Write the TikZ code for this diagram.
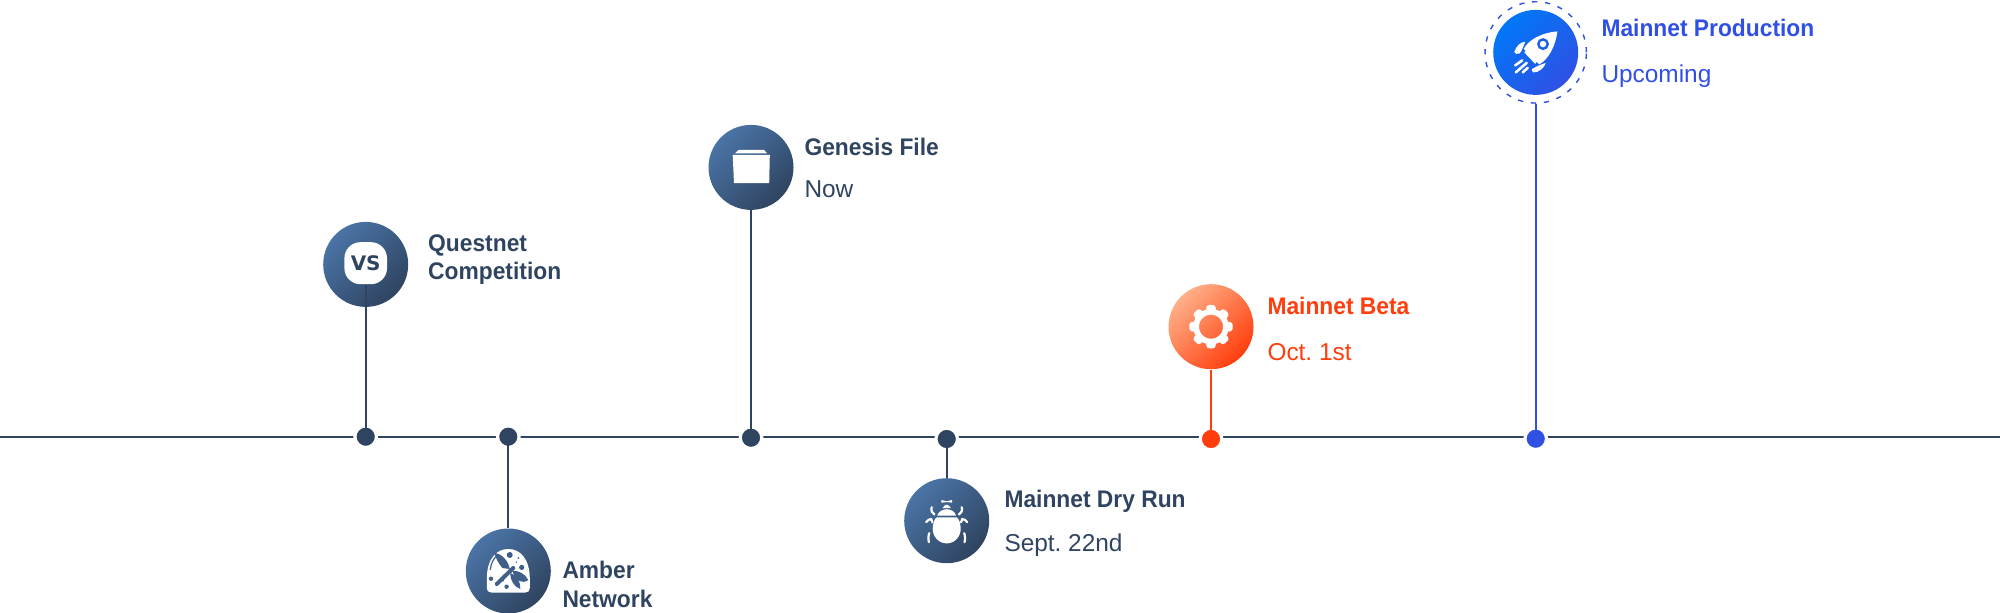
\documentclass[tikz,border=0pt]{standalone}
\usepackage{fontspec}
\setmainfont{Liberation Sans}[FakeStretch=0.95]
\newfontfamily\subfam{Liberation Sans}[FakeStretch=1.0]
\newfontfamily\vsfam{DejaVu Sans}
\definecolor{ink}{HTML}{2F4460}
\definecolor{inkhi}{HTML}{4A74A6}
\definecolor{inkmid}{HTML}{3F5F8A}
\definecolor{org}{HTML}{FF3D0D}
\definecolor{orghi}{HTML}{FFB088}
\definecolor{blu}{HTML}{3050E4}
\definecolor{bluhi}{HTML}{0078F8}
\definecolor{bluin}{HTML}{1C60EA}
\tikzset{
  x=0.5pt,y=-0.5pt,
  badge/.style={circle,minimum size=42.5pt,inner sep=0pt},
  inkbadge/.style={badge,top color=inkhi,bottom color=ink,shading angle=45},
  orgbadge/.style={badge,top color=orghi,bottom color=org,shading angle=45},
  blubadge/.style={badge,top color=bluhi,bottom color=blu,shading angle=45},
  dot/.style={circle,inner sep=0pt,fill=#1,draw=white,line width=1.6pt,minimum size=10.8pt},
  rail/.style={line width=0.85pt,draw=ink},
  stem/.style={line width=0.85pt,draw=#1},
  head/.style={anchor=base west,inner sep=0pt,xshift=-0.45pt,yshift=-0.25pt,font=\fontsize{12}{14}\selectfont\bfseries,text=#1},
  sub/.style={anchor=base west,inner sep=0pt,xshift=-0.45pt,yshift=-0.25pt,font=\fontsize{12.2}{14}\selectfont\subfam\frenchspacing,text=#1},
  ico/.style={fill=white,draw=none},
}
\begin{document}
\begin{tikzpicture}
\useasboundingbox (0,-0.7) rectangle (2000,612.3);
\coordinate (railL) at (0,436);
\coordinate (railR) at (2000,436);
\draw[rail] (railL) -- (railR);

\node[dot=ink] (d1) at (365.7,436) {};
\node[dot=ink] (d2) at (508.3,436) {};
\node[dot=ink] (d3) at (751,437) {};
\node[dot=ink] (d4) at (946.7,438.3) {};
\node[dot=org] (d5) at (1211,438.3) {};
\node[dot=blu] (d6) at (1535.7,438) {};

\node[inkbadge] (c1) at (365.7,263.7) {};
\node[inkbadge] (c2) at (508.3,570.3) {};
\node[inkbadge] (c3) at (751,166.7) {};
\node[inkbadge] (c4) at (946.7,520) {};
\node[orgbadge] (c5) at (1211,326) {};
\node[blubadge] (c6) at (1535.7,51.7) {};
\node[circle,minimum size=50.7pt,inner sep=0pt,draw=blu,line width=0.7pt,dash pattern=on 2.6pt off 3.9pt] (ring) at (1535.7,51.7) {};

% VS icon
\node[fill=white,rounded corners=8pt,minimum width=21.3pt,minimum height=21pt,inner sep=0pt,
  font=\vsfam\fontsize{10}{12}\selectfont\bfseries,text=ink] (vs) at (365.7,262.5) {VS};

% connectors
\draw[stem=ink] (d1.center) -- (vs);
\draw[stem=ink] (d2.center) -- (c2);
\draw[stem=ink] (d3.center) -- (c3);
\draw[stem=ink] (d4.center) -- (c4);
\draw[stem=org] (d5.center) -- (c5);
\draw[stem=blu] (d6.center) -- (ring);

% dragonfly dome
\begin{scope}[shift={(c2.center)}]
\fill[white] (-21.5,8) .. controls (-21.5,-12) and (-12,-22) .. (0,-22)
  .. controls (12,-22) and (21.5,-12) .. (21.5,8) -- (21.5,17)
  .. controls (21.5,20) and (20,21.5) .. (17,21.5) -- (-17,21.5)
  .. controls (-20,21.5) and (-21.5,20) .. (-21.5,17) -- cycle;
\begin{scope}[inkmid]
\draw[line width=2pt,line cap=round] (-11.5,13) -- (5,-3);
\fill (1.5,-2) -- (-6,-3) .. controls (-10,-8) and (-13,-13) .. (-13.5,-18)
  .. controls (-6,-17) and (0,-10) .. (1.5,-2) -- cycle;
\fill (4,0) .. controls (10,-1) and (17,3) .. (20,9) .. controls (14,13) and (8,11) .. (4,0) -- cycle;
\fill (2,2) .. controls (9,5) and (12,10) .. (12,18) .. controls (6,16) and (2,10) .. (2,2) -- cycle;
\draw[line width=0.6pt] (-18,-1) .. controls (-17.5,-7) and (-15.5,-11) .. (-12,-15);
\fill (1.4,-16) circle[radius=3];
\fill (13.4,-3.6) circle[radius=2.6];
\fill (-17.3,7.7) circle[radius=2.2];
\fill (-1.7,15.7) circle[radius=2.2];
\fill (10,-13) circle[radius=1];
\fill (-5,9.5) circle[radius=.9];
\fill (8,-9) circle[radius=.8];
\end{scope}
\end{scope}

% folder
\begin{scope}[shift={(c3.center)}]
\fill[ico] (-18.3,-12.4) -- (18.8,-12.4) -- (18.2,15.8) -- (-17,15.8) -- cycle;
\fill[ico] (-16,-14) -- (-12.7,-17.4) -- (13,-17.4) -- (16.3,-14) -- cycle;
\end{scope}

% bug
\begin{scope}[shift={(c4.center)}]
\fill[ico] (-10,-3.3) -- (10,-3.3) .. controls (12.5,-2.5) and (14,4) .. (14,8)
  .. controls (14,16) and (8,22.7) .. (0,22.7)
  .. controls (-8,22.7) and (-14,16) .. (-14,8)
  .. controls (-14,4) and (-12.5,-2.5) .. (-10,-3.3) -- cycle;
\fill[ico] (-9.5,-5) .. controls (-8.5,-9) and (-4,-11.5) .. (0,-11.5)
  .. controls (4,-11.5) and (8.5,-9) .. (9.5,-5) -- cycle;
\fill[ico] (-4.3,-12.5) .. controls (-3,-15) and (-1,-16) .. (0,-16)
  .. controls (1,-16) and (3,-15) .. (4.3,-12.5) -- cycle;
\fill[ico] (-5.3,-20.7) -- (0,-19.4) -- (5.3,-20.7) -- (5.3,-18) -- (0,-18.6) -- (-5.3,-18) -- cycle;
\begin{scope}[draw=white,line width=1.1pt,line cap=round]
\draw (-15,-13.5) .. controls (-15.8,-10) and (-15,-8) .. (-12.3,-6.2);
\draw (15,-13.5) .. controls (15.8,-10) and (15,-8) .. (12.3,-6.2);
\draw (-20.5,1.3) .. controls (-19,-1) and (-17,-1.5) .. (-15.5,-1.5) -- (-14.3,1.6);
\draw (20.5,1.3) .. controls (19,-1) and (17,-1.5) .. (15.5,-1.5) -- (14.3,1.6);
\draw (-17.5,12.5) .. controls (-18.5,15) and (-18.5,19) .. (-17.8,21.5);
\draw (17.5,12.5) .. controls (18.5,15) and (18.5,19) .. (17.8,21.5);
\end{scope}
\end{scope}

% gear
\begin{scope}[shift={(c5.center)}]
\draw[white,line width=2.85pt] (0,0) circle[radius=14.9];
\foreach \a in {0,45,...,315}{
  \fill[white,rotate=\a,rounded corners=1.2pt] (15,-5.2) -- (21.7,-4.2) -- (21.7,4.2) -- (15,5.2) -- cycle;
}
\end{scope}

% rocket
\begin{scope}[shift={(c6.center)}]
\fill[ico] (-12,-3.5) .. controls (-7,-13) and (7,-20) .. (21.7,-21)
  .. controls (20,-7) and (13,7) .. (3.5,12) -- cycle;
\fill[ico] (-11.5,0) -- (-0.5,11.5) -- (1.2,9) -- (-9.5,-2) -- cycle;
\fill[ico] (-21.5,-0.5) .. controls (-19,-7) and (-15,-10.5) .. (-10.5,-10.5) -- (-14.5,-1) -- (-16.5,1.2)
  .. controls (-19,2) and (-20.5,1.5) .. (-21.5,-0.5) -- cycle;
\fill[ico] (-2.5,20) .. controls (3,20.5) and (9,15) .. (10,10.5) -- (2,13.5) -- (-3.5,16.5)
  .. controls (-4,18) and (-3.5,19.5) .. (-2.5,20) -- cycle;
\draw[white,line width=1.3pt,line cap=round] (-20.5,13) -- (-13.5,8);
\draw[white,line width=1.3pt,line cap=round] (-20,20) -- (-9,10.5);
\draw[white,line width=1.3pt,line cap=round] (-13,20) -- (-8,15.5);
\draw[bluin,line width=1.2pt,fill=white] (7.3,-8.3) circle[radius=4.7];
\end{scope}

% labels
\node[head=ink] (t1a) at (428.7,250) {Questnet};
\node[head=ink] (t1b) at (428.7,278.7) {Competition};
\node[head=ink] (t2a) at (563,577.7) {Amber};
\node[head=ink] (t2b) at (563,606.7) {Network};
\node[head=ink] (t3a) at (805,154.7) {Genesis File};
\node[sub=ink] (t3b) at (805,196.7) {Now};
\node[head=ink] (t4a) at (1005,506.7) {Mainnet Dry Run};
\node[sub=ink] (t4b) at (1005,550.7) {Sept. 22nd};
\node[head=org] (t5a) at (1268,313.7) {Mainnet Beta};
\node[sub=org] (t5b) at (1268,359) {Oct. 1st};
\node[head=blu] (t6a) at (1602,35.7) {Mainnet Production};
\node[sub=blu] (t6b) at (1602,81) {Upcoming};
\end{tikzpicture}
\end{document}
